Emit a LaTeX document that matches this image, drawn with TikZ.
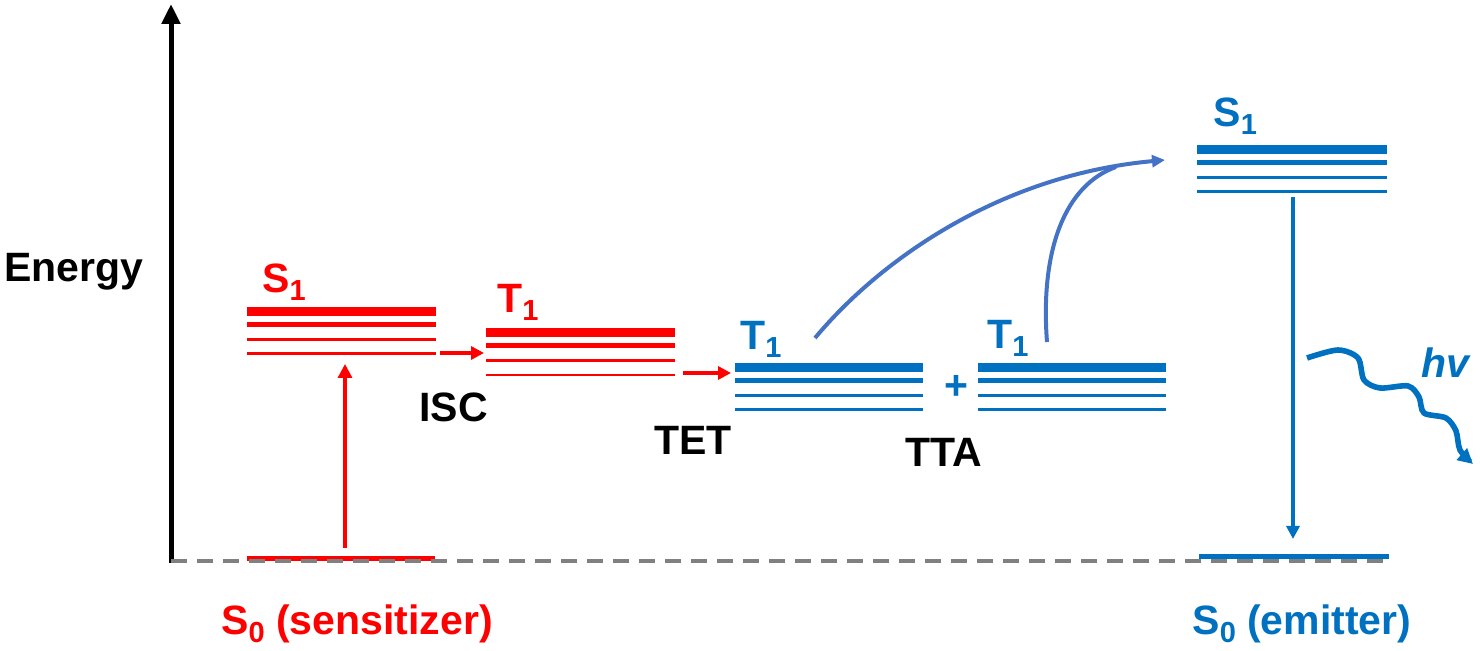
\documentclass[tikz,border=0pt]{standalone}
\usepackage{fontspec}
\setmainfont{Liberation Sans}
\usetikzlibrary{arrows.meta}
\definecolor{sred}{RGB}{255,0,0}
\definecolor{eblue}{RGB}{0,112,192}
\definecolor{cblue}{RGB}{68,114,196}
\definecolor{dgray}{RGB}{128,128,128}
\newcommand\lowsub[1]{\raisebox{-4pt}{\fontsize{14.5}{14}\selectfont #1}}
\newcommand\levelset[4]{%
  \draw[#4, line width=4.5pt] (#1,#3) -- (#2,#3);
  \draw[#4, line width=2.5pt] (#1,{#3+13}) -- (#2,{#3+13});
  \draw[#4, line width=1.5pt] (#1,{#3+28}) -- (#2,{#3+28});
  \draw[#4, line width=1.2pt] (#1,{#3+42}) -- (#2,{#3+42});
}
\begin{document}
\begin{tikzpicture}[x=0.5pt,y=-0.5pt,
  lbl/.style={inner sep=0pt, font=\fontsize{20.5}{24}\selectfont\bfseries},
  redarrow/.style={sred, line width=2pt, -{Triangle[length=6.5pt,width=6.5pt]}},
  bluearrow/.style={eblue, line width=2pt, -{Triangle[length=6.5pt,width=6.5pt]}},
  curvearrow/.style={cblue, line width=2pt, -{Triangle[length=6.5pt,width=6pt]}}]
\useasboundingbox (0,0) rectangle (1480,651);

% ground-state lines
\draw[sred, line width=2.5pt] (247,559) -- (435,559);
\draw[eblue, line width=2.5pt] (1199,557) -- (1389,557);

% energy axis and baseline
\coordinate (axb) at (171,563);
\coordinate (axt) at (171,4);
\draw[black, line width=2.5pt, -{Triangle[length=10pt,width=9pt]}] (axb) -- (axt);
\coordinate (dl) at (171,561);
\coordinate (dr) at (1390,561);
\draw[dgray, line width=2pt, dash pattern=on 8pt off 5pt] (dl) -- (dr);

% levels
\levelset{247}{436}{311.5}{sred}
\levelset{486}{675}{333}{sred}
\levelset{735}{923}{367.5}{eblue}
\levelset{978}{1166}{367.5}{eblue}
\levelset{1197}{1387}{149.5}{eblue}

% labels
\node[lbl, anchor=base west] (energy) at (4,282) {Energy};
\node[lbl, sred, anchor=base west] (s1s) at (262,293) {S\lowsub{1}};
\node[lbl, sred, anchor=base west] (t1s) at (497,313) {T\lowsub{1}};
\node[lbl, eblue, anchor=base west] (t1a) at (740,350) {T\lowsub{1}};
\node[lbl, eblue, anchor=base west] (t1b) at (987,349) {T\lowsub{1}};
\node[lbl, eblue, anchor=base west] (s1e) at (1213,127) {S\lowsub{1}};
\node[lbl, eblue] (plus) at (956,387) {+};
\node[lbl, anchor=base east] (isc) at (488,422) {ISC};
\node[lbl, anchor=base west] (tet) at (654,455) {TET};
\node[lbl, anchor=base west] (tta) at (905,467) {TTA};
\node[lbl, sred, anchor=base west] (s0s) at (221,635) {S\lowsub{0} (sensitizer)};
\node[lbl, eblue, anchor=base west] (s0e) at (1192,635) {S\lowsub{0} (emitter)};
\node[lbl, eblue, anchor=base west, font=\fontsize{20.5}{24}\selectfont\bfseries\itshape] (hv) at (1421,378) {hv};

% arrows
\coordinate (abs) at (345,548);
\coordinate (abe) at (345,364);
\draw[sred, line width=1.6pt, -{Triangle[length=7pt,width=7pt]}] (abs) -- (abe);
\coordinate (iscs) at (440,353);
\coordinate (isce) at (484,353);
\draw[redarrow] (iscs) -- (isce);
\coordinate (tets) at (683,373);
\coordinate (tete) at (731,373);
\draw[redarrow] (tets) -- (tete);
\coordinate (ems) at (1293,197);
\coordinate (eme) at (1293,539);
\draw[bluearrow] (ems) -- (eme);

% TTA curves
\coordinate (c1s) at (815,338);
\coordinate (c1e) at (1165,160);
\draw[curvearrow] (c1s) .. controls (880,260) and (1000,175) .. (c1e);
\coordinate (c2s) at (1047,342);
\coordinate (c2e) at (1116,167);
\draw[cblue, line width=2pt] (c2s) .. controls (1040,250) and (1065,185) .. (c2e);

% emitted photon
\draw[eblue, line width=2.8pt, -{Triangle[length=7.5pt,width=7.5pt]}]
  plot[smooth, tension=0.5] coordinates {(1307,358) (1338,350) (1358,358) (1364,380) (1380,388) (1408,386) (1419,397) (1424,413) (1446,418) (1456,431) (1460,450) (1473,464)};
\end{tikzpicture}
\end{document}
